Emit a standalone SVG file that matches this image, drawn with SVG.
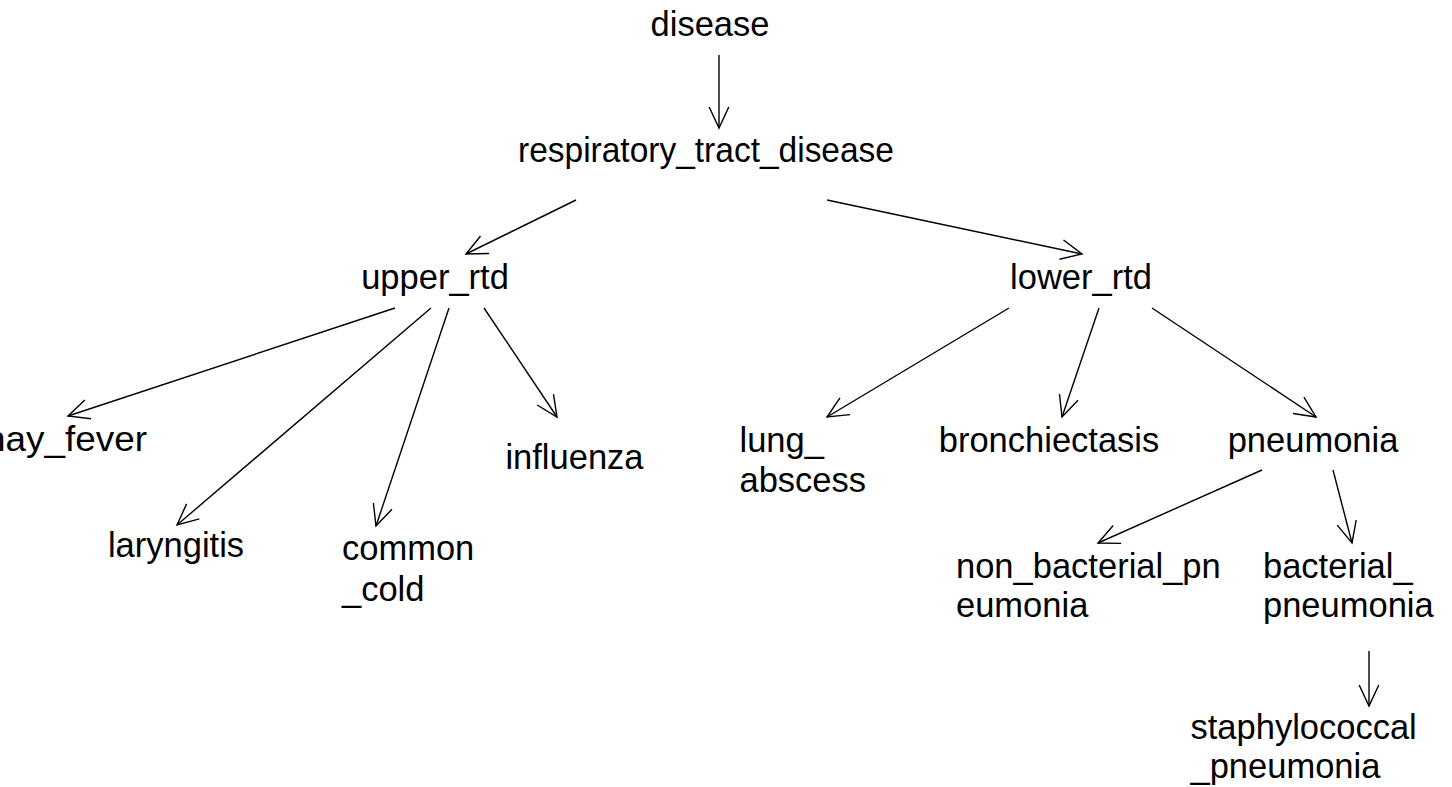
<svg xmlns="http://www.w3.org/2000/svg" width="1452" height="787" viewBox="0 0 1452 787">
<style>
text{font-family:"Liberation Sans",Arial,sans-serif;font-size:34.5px;fill:#000}
.c{text-anchor:middle}
.edge{stroke:#000;stroke-width:1.4;fill:none;marker-end:url(#ah)}
</style>
<defs>
<marker id="ah" markerUnits="userSpaceOnUse" markerWidth="30" markerHeight="30" viewBox="-25 -15 30 30" refX="0" refY="0" orient="auto" overflow="visible">
<path d="M-21,-9.8 L0,0 L-21,9.8" fill="none" stroke="#000" stroke-width="1.4"/>
</marker>
</defs>
<rect width="1452" height="787" fill="#fff"/>
<g id="connectors">
<line class="edge" x1="719" y1="55" x2="719" y2="128"/>
<line class="edge" x1="576" y1="200" x2="466" y2="254"/>
<line class="edge" x1="827" y1="200" x2="1082" y2="254"/>
<line class="edge" x1="395" y1="308" x2="68" y2="416"/>
<line class="edge" x1="431" y1="308" x2="177" y2="525"/>
<line class="edge" x1="449" y1="308" x2="376" y2="526"/>
<line class="edge" x1="484" y1="308" x2="557" y2="417"/>
<line class="edge" x1="1009" y1="308" x2="827" y2="417"/>
<line class="edge" x1="1099" y1="308" x2="1062" y2="417"/>
<line class="edge" x1="1152" y1="308" x2="1316" y2="417"/>
<line class="edge" x1="1262" y1="470" x2="1098" y2="543"/>
<line class="edge" x1="1333" y1="470" x2="1352" y2="543"/>
<line class="edge" x1="1369" y1="651" x2="1369" y2="706"/>
</g>
<g id="disease"><text class="c" x="710" y="36">disease</text></g>
<g id="respiratory_tract_disease"><text class="c" x="706" y="162" textLength="376" lengthAdjust="spacingAndGlyphs">respiratory_tract_disease</text></g>
<g id="upper_rtd"><text class="c" x="435" y="289">upper_rtd</text></g>
<g id="lower_rtd"><text class="c" x="1081" y="289">lower_rtd</text></g>
<g id="hay_fever"><text x="-15" y="451" textLength="162" lengthAdjust="spacingAndGlyphs">hay_fever</text></g>
<g id="laryngitis"><text class="c" x="176" y="557">laryngitis</text></g>
<g id="common_cold"><text x="342" y="560">common</text><text x="342" y="600.5">_cold</text></g>
<g id="influenza"><text class="c" x="574.5" y="469">influenza</text></g>
<g id="lung_abscess"><text x="739.5" y="452">lung_</text><text x="739.5" y="492">abscess</text></g>
<g id="bronchiectasis"><text class="c" x="1049" y="452">bronchiectasis</text></g>
<g id="pneumonia"><text class="c" x="1313" y="452">pneumonia</text></g>
<g id="non_bacterial_pneumonia"><text x="956" y="578">non_bacterial_pn</text><text x="956" y="617">eumonia</text></g>
<g id="bacterial_pneumonia"><text x="1263" y="578">bacterial_</text><text x="1263" y="617">pneumonia</text></g>
<g id="staphylococcal_pneumonia"><text x="1190.5" y="739">staphylococcal</text><text x="1190.5" y="778">_pneumonia</text></g>
</svg>
